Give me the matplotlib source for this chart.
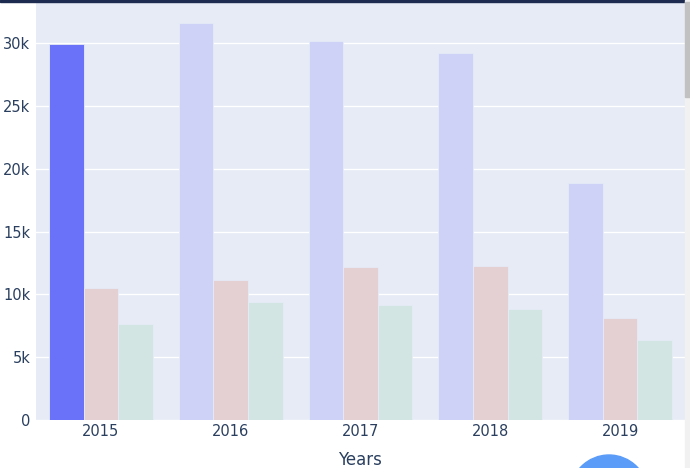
import matplotlib.pyplot as plt
from matplotlib.patches import Circle, Rectangle
import numpy as np

years = ['2015', '2016', '2017', '2018', '2019']
series_a = [29900, 31600, 30200, 29200, 18850]
series_b = [10500, 11150, 12150, 12250, 8100]
series_c = [7650, 9400, 9150, 8850, 6350]

W, H = 690, 468
fig = plt.figure(figsize=(W / 100, H / 100), dpi=100)
ax = fig.add_axes([36 / W, (H - 420) / H, (685 - 36) / W, (420 - 3) / H])
ax.set_facecolor('#e6ebf6')

x = np.arange(len(years))
bw = 0.8 / 3
faded = ['#cdd2f6', '#e4cfd3', '#d3e5e3']
for i, vals in enumerate([series_a, series_b, series_c]):
    cols = [faded[i]] * len(years)
    if i == 0:
        cols[0] = '#6b72fa'
    ax.bar(x + (i - 1) * bw, vals, width=bw, color=cols,
           edgecolor='#e6ebf6', linewidth=0.6, zorder=3)

ax.set_xlim(-0.5, 4.5)
ax.set_ylim(0, 33200)
ax.set_yticks([0, 5000, 10000, 15000, 20000, 25000, 30000])
ax.set_yticklabels(['0', '5k', '10k', '15k', '20k', '25k', '30k'])
ax.set_xticks(x)
ax.set_xticklabels(years)
ax.grid(axis='y', color='white', linewidth=1, zorder=0)
ax.set_axisbelow(True)
for s in ax.spines.values():
    s.set_visible(False)
ax.tick_params(length=0, labelsize=10.5, colors='#2a3f5f', pad=4)
ax.tick_params(axis='x', pad=3)
fig.text(360 / W, (H - 460) / H, 'Years', fontsize=12, color='#2a3f5f',
         ha='center', va='center')

# page decorations
fig.patches.append(Rectangle((0, (H - 2) / H), 1, 2 / H, transform=fig.transFigure,
                             color='#1c2b4f', zorder=10))
fig.patches.append(Rectangle((685 / W, 0), 5 / W, 1, transform=fig.transFigure,
                             color='#f1f1f1', zorder=10))
fig.patches.append(Rectangle((685 / W, (H - 97) / H), 5 / W, 95 / H,
                             transform=fig.transFigure, color='#c1c1c1', zorder=11))
fig.patches.append(Circle((609, H - 494), 39, transform=None, color='#5b9cf8', zorder=10))

fig.savefig('out.png', dpi=100)
